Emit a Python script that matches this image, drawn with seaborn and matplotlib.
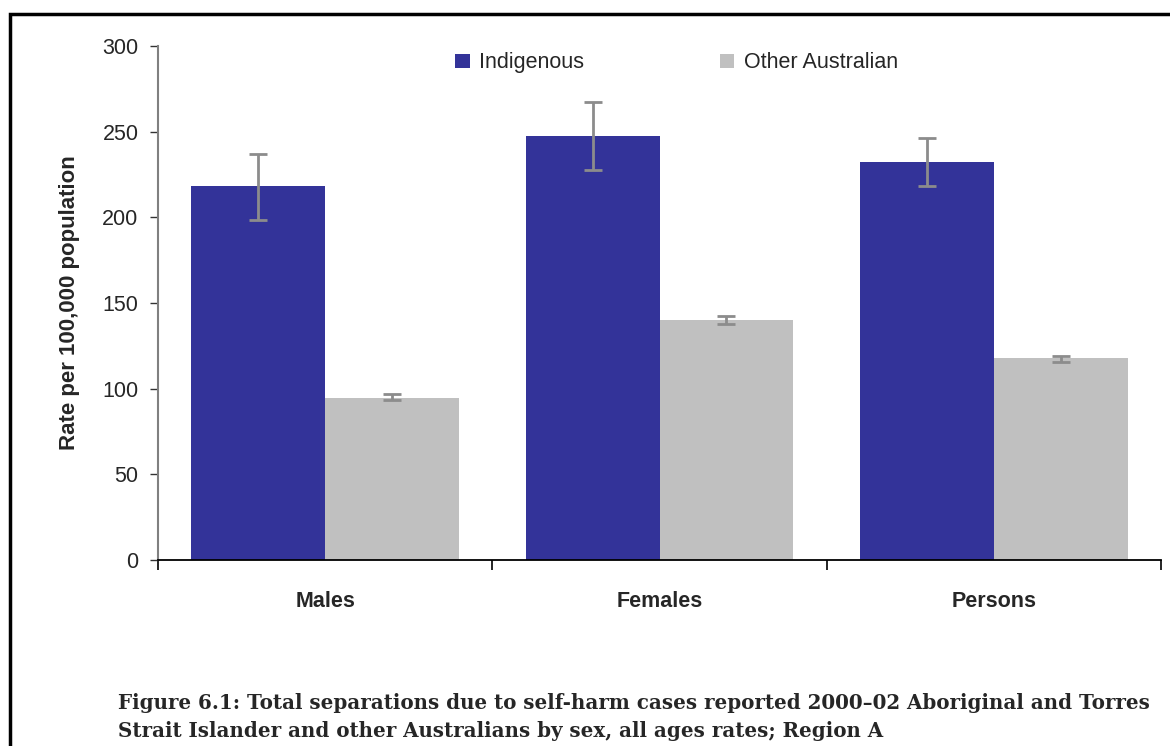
import matplotlib
matplotlib.use("Agg")
import matplotlib.pyplot as plt
from matplotlib.patches import Rectangle
from matplotlib.ticker import FixedLocator, NullFormatter
import numpy as np
import pandas as pd
import seaborn as sns

# Rates per 100,000 population, with 95% confidence limits
sexes = ["Males", "Females", "Persons"]
series = ["Indigenous", "Other Australian"]
indigenous_rate = [218.5, 247.5, 232.5]
indigenous_low = [198.5, 227.5, 218.0]
indigenous_high = [237.0, 267.5, 246.5]
other_rate = [94.5, 140.0, 118.0]
other_low = [93.2, 137.8, 115.8]
other_high = [96.8, 142.4, 119.2]
y_ticks = [0, 50, 100, 150, 200, 250, 300]

colors = {"Indigenous": "#333399", "Other Australian": "#C0C0C0"}

df = pd.DataFrame({
    "sex": sexes * 2,
    "series": [series[0]] * 3 + [series[1]] * 3,
    "rate": indigenous_rate + other_rate,
})
limits = {
    "Indigenous": (indigenous_low, indigenous_high),
    "Other Australian": (other_low, other_high),
}

sns.set_style("white")
plt.rcParams["font.family"] = ["Liberation Sans", "DejaVu Sans"]

fig = plt.figure(figsize=(11.7, 7.46), dpi=100)
ax = fig.add_axes([158 / 1170, 1 - 560 / 746, 1003 / 1170, 514 / 746])

sns.barplot(data=df, x="sex", y="rate", hue="series", order=sexes,
            hue_order=series, palette=colors, saturation=1, width=0.8,
            errorbar=None, linewidth=0, ax=ax)

# Confidence-interval whiskers on each bar
for container, name in zip(ax.containers, series):
    lows, highs = limits[name]
    for bar, lo, hi in zip(container, lows, highs):
        xc = bar.get_x() + bar.get_width() / 2
        val = bar.get_height()
        ax.errorbar([xc], [val], yerr=[[val - lo], [hi - val]], fmt="none",
                    ecolor="#8C8C8C", elinewidth=2, capsize=6.2, capthick=2,
                    zorder=5)

ax.set_xlim(-0.5, 2.5)
ax.set_ylim(0, 300)
ax.set_yticks(y_ticks)
ax.tick_params(axis="y", labelsize=15.5, length=6, width=1, color="#333333",
               pad=8, left=True)
ax.set_xticks(range(len(sexes)))
ax.set_xticklabels(sexes, fontsize=15.5, fontweight="bold")
ax.tick_params(axis="x", which="major", length=0, pad=22)
ax.xaxis.set_minor_locator(FixedLocator([-0.5, 0.5, 1.5, 2.5]))
ax.xaxis.set_minor_formatter(NullFormatter())
ax.tick_params(axis="x", which="minor", length=7, width=1.2, color="black",
               bottom=True)
ax.set_xlabel("")
ax.set_ylabel("Rate per 100,000 population", fontsize=16,
              fontweight="bold", labelpad=16)

for side in ("top", "right"):
    ax.spines[side].set_visible(False)
ax.spines["left"].set_color("#808080")
ax.spines["left"].set_linewidth(1.5)
ax.spines["bottom"].set_color("black")
ax.spines["bottom"].set_linewidth(1.3)

handles, labels = ax.get_legend_handles_labels()
ax.legend(handles, labels, ncol=2, frameon=False, fontsize=15.5,
          loc="center left", bbox_to_anchor=(0.296, 0.967),
          handlelength=0.68, handleheight=0.68, handletextpad=0.45,
          columnspacing=6.3, borderpad=0, borderaxespad=0)

# Outer frame of the figure panel
fig.patches.append(Rectangle((9.5 / 1170, -0.2), 1.5, 1.2 - 13.5 / 746,
                             transform=fig.transFigure, fill=False,
                             edgecolor="black", linewidth=2.5))

cap_kw = dict(fontsize=14.3, fontweight="bold",
              family=["DejaVu Serif"], va="baseline", ha="left")
fig.text(118 / 1170, 1 - 709 / 746,
         "Figure 6.1: Total separations due to self-harm cases reported "
         "2000\u201302 Aboriginal and Torres", **cap_kw)
fig.text(118 / 1170, 1 - 737 / 746,
         "Strait Islander and other Australians by sex, all ages rates; "
         "Region A", **cap_kw)

fig.savefig("out.png", dpi=100)
